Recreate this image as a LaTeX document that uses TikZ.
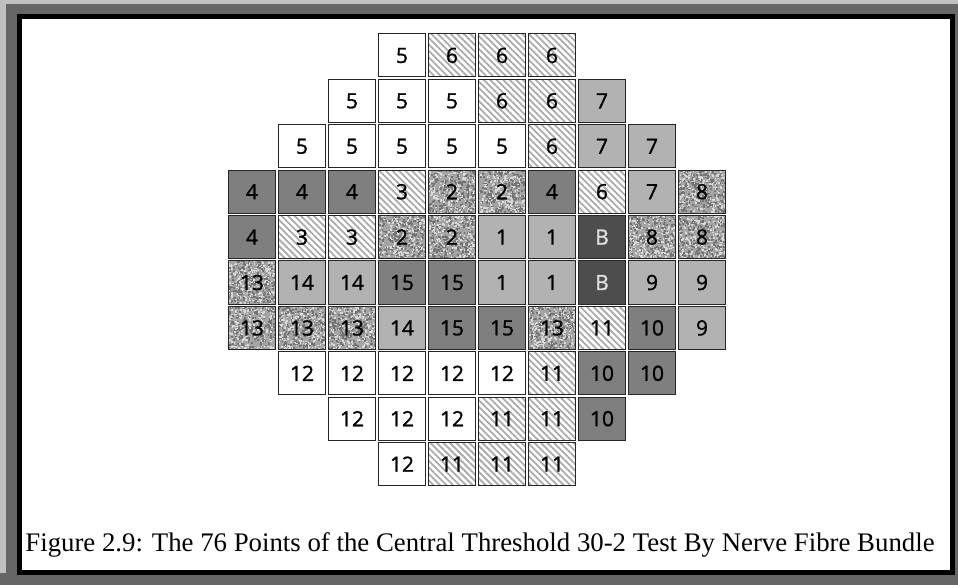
\documentclass[tikz,border=0pt]{standalone}
\usepackage{fontspec}
\setmainfont{Liberation Serif}
\newfontfamily\cellfont{Open Sans}[FakeBold=1.2]
\usetikzlibrary{patterns.meta}

\definecolor{framegray}{HTML}{666666}
\definecolor{rimgray}{HTML}{C0C0C0}
\definecolor{lightcell}{HTML}{B2B2B2}
\definecolor{midcell}{HTML}{7F7F7F}
\definecolor{darkcell}{HTML}{4D4D4D}
\definecolor{hatchgray}{HTML}{ABABAB}
\definecolor{speckbase}{HTML}{A4A4A4}

\tikzset{
  cell/.style={draw=black!85, line width=1pt, minimum width=47.5pt, minimum height=43pt,
    inner sep=0pt, font=\cellfont\fontsize{21}{21}\selectfont},
  plain/.style={cell, fill=white},
  hatch/.style={cell, pattern={Lines[angle=-45,distance=4.6pt,line width=1.8pt]},
    pattern color=hatchgray},
  light/.style={cell, fill=lightcell},
  mid/.style={cell, fill=midcell},
  dark/.style={cell, fill=darkcell, text=white!88!black},
  speckle/.style={cell, fill=speckbase, path picture={
    \foreach \k in {1,...,240}{
      \fill[black!55] ([shift={(rnd*48-24,rnd*44-22)}]path picture bounding box.center)
        rectangle ++(1.8pt,1.8pt);
      \fill[white!85!black] ([shift={(rnd*48-24,rnd*44-22)}]path picture bounding box.center)
        rectangle ++(1.6pt,1.6pt);
    }}},
}

\begin{document}
\pgfmathsetseed{29}
\begin{tikzpicture}[x=1pt, y=-1pt]
    \useasboundingbox (0,0) rectangle (958,585);

    % Frame
    \fill[framegray] (0,0) rectangle (958,585);
    \fill[rimgray] (0,0) rectangle (958,4);
    \fill[rimgray] (0,0) rectangle (6,573);
    \fill[black] (17,14) rectangle (955,575);
    \fill[white] (22,19) rectangle (950,570);

    % Test points: row / column / bundle / fill
    \foreach \r/\c/\t/\s in {
        0/3/5/plain, 0/4/6/hatch, 0/5/6/hatch, 0/6/6/hatch,
        1/2/5/plain, 1/3/5/plain, 1/4/5/plain, 1/5/6/hatch, 1/6/6/hatch, 1/7/7/light,
        2/1/5/plain, 2/2/5/plain, 2/3/5/plain, 2/4/5/plain, 2/5/5/plain,
        2/6/6/hatch, 2/7/7/light, 2/8/7/light,
        3/0/4/mid, 3/1/4/mid, 3/2/4/mid, 3/3/3/hatch, 3/4/2/speckle,
        3/5/2/speckle, 3/6/4/mid, 3/7/6/hatch, 3/8/7/light, 3/9/8/speckle,
        4/0/4/mid, 4/1/3/hatch, 4/2/3/hatch, 4/3/2/speckle, 4/4/2/speckle,
        4/5/1/light, 4/6/1/light, 4/7/B/dark, 4/8/8/speckle, 4/9/8/speckle,
        5/0/13/speckle, 5/1/14/light, 5/2/14/light, 5/3/15/mid, 5/4/15/mid,
        5/5/1/light, 5/6/1/light, 5/7/B/dark, 5/8/9/light, 5/9/9/light,
        6/0/13/speckle, 6/1/13/speckle, 6/2/13/speckle, 6/3/14/light, 6/4/15/mid,
        6/5/15/mid, 6/6/13/speckle, 6/7/11/hatch, 6/8/10/mid, 6/9/9/light,
        7/1/12/plain, 7/2/12/plain, 7/3/12/plain, 7/4/12/plain, 7/5/12/plain,
        7/6/11/hatch, 7/7/10/mid, 7/8/10/mid,
        8/2/12/plain, 8/3/12/plain, 8/4/12/plain, 8/5/11/hatch, 8/6/11/hatch, 8/7/10/mid,
        9/3/12/plain, 9/4/11/hatch, 9/5/11/hatch, 9/6/11/hatch}
      \node[\s] (p\r-\c) at (252+50*\c, 55.5+45.4*\r) {\t};

    % Caption
    \node[anchor=base, inner sep=0pt, font=\fontsize{26.8}{27}\selectfont] (caption) at (480,551)
      {Figure 2.9: The 76 Points of the Central Threshold 30-2 Test By Nerve Fibre Bundle};
\end{tikzpicture}
\end{document}
